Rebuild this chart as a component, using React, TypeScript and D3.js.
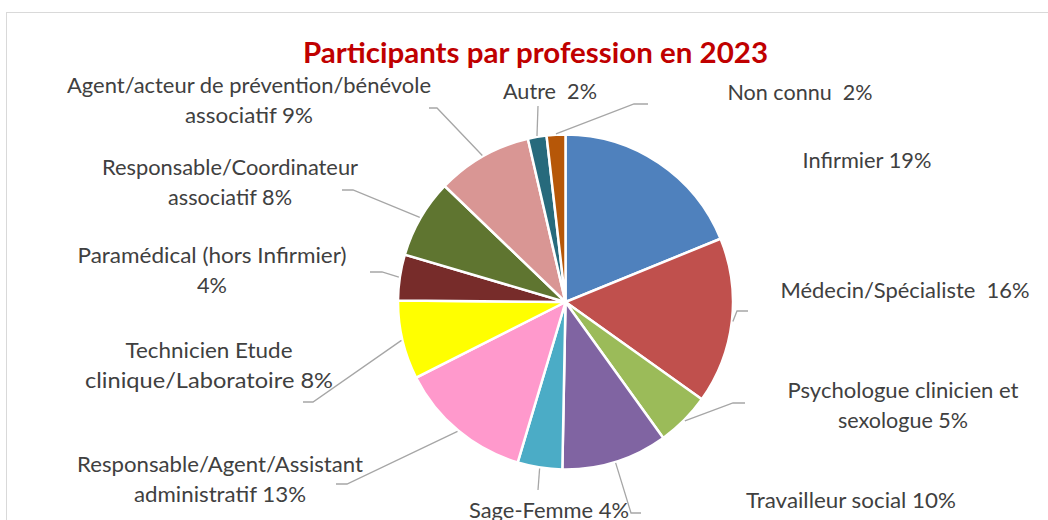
import * as d3 from "d3";

// professions, clockwise from 12 o'clock
const categories = [
  "Infirmier",
  "Médecin/Spécialiste",
  "Psychologue clinicien et sexologue",
  "Travailleur social",
  "Sage-Femme",
  "Responsable/Agent/Assistant administratif",
  "Technicien Etude clinique/Laboratoire",
  "Paramédical (hors Infirmier)",
  "Responsable/Coordinateur associatif",
  "Agent/acteur de prévention/bénévole associatif",
  "Autre",
  "Non connu",
];
// share of participants (%)
const shares = [18.8, 16.0, 5.2, 10.2, 4.3, 12.9, 7.6, 4.4, 7.6, 9.2, 1.8, 1.8];
// data labels as printed
const labelLines = [
  ["Infirmier 19%"],
  ["Médecin/Spécialiste  16%"],
  ["Psychologue clinicien et", "sexologue 5%"],
  ["Travailleur social 10%"],
  ["Sage-Femme 4%"],
  ["Responsable/Agent/Assistant", "administratif 13%"],
  ["Technicien Etude", "clinique/Laboratoire 8%"],
  ["Paramédical (hors Infirmier)", "4%"],
  ["Responsable/Coordinateur", "associatif 8%"],
  ["Agent/acteur de prévention/bénévole", "associatif 9%"],
  ["Autre  2%"],
  ["Non connu  2%"],
];
const colors = [
  "#4F81BD", "#C0504D", "#9BBB59", "#8064A2", "#4BACC6", "#FF99CC",
  "#FFFF00", "#772C2A", "#5F7530", "#D99694", "#276A7C", "#B65708",
];

// label placement: [centre x, first baseline, width per line], leader elbow + end
type Place = { x: number; y: number; w: number[]; leader?: [number, number][] };
const places: Place[] = [
  { x: 867, y: 168, w: [129] },
  { x: 905, y: 298, w: [249], leader: [[737, 311], [748, 311]] },
  { x: 903, y: 398, w: [231, 130], leader: [[733, 403], [745, 403]] },
  { x: 851, y: 508, w: [210], leader: [[631, 513], [641, 513]] },
  { x: 549, y: 518, w: [160], leader: [[538, 490]] },
  { x: 220, y: 472, w: [286, 172], leader: [[347, 484], [336, 484]] },
  { x: 209, y: 358, w: [167, 248], leader: [[313, 402], [303, 402]] },
  { x: 212, y: 263, w: [269, 30], leader: [[382, 272], [370, 272]] },
  { x: 230, y: 175, w: [256, 124], leader: [[353, 190], [342, 190]] },
  { x: 249, y: 93, w: [364, 128], leader: [[437, 108], [429, 108]] },
  { x: 550, y: 99, w: [94], leader: [[538, 106]] },
  { x: 800, y: 100, w: [145], leader: [[634, 104], [648, 104]] },
];

const width = 1048;
const height = 520;
const cx = 565.5;
const cy = 302;
const radius = 167.5;
const lineGap = 29.5;

export default function App() {
  const pie = d3
    .pie<number>()
    .sort(null)
    .value((d) => d);
  const arcs = pie(shares);
  const arc = d3.arc<d3.PieArcDatum<number>>().innerRadius(0).outerRadius(radius);
  const edge = d3
    .arc<d3.PieArcDatum<number>>()
    .innerRadius(radius + 1)
    .outerRadius(radius + 1);

  return (
    <svg
      width={width}
      height={height}
      style={{ position: "absolute", left: 0, top: 0, background: "#fff" }}
    >
      <rect x={6.5} y={12.5} width={1100} height={600} fill="#fff" stroke="#D9D9D9" />
      <text
        x={535.5}
        y={63}
        textAnchor="middle"
        fontFamily="Lato, 'Open Sans', sans-serif"
        fontWeight="bold"
        fontSize={28}
        fill="#C00000"
        textLength={465}
        lengthAdjust="spacingAndGlyphs"
      >
        Participants par profession en 2023
      </text>

      <g transform={`translate(${cx},${cy})`}>
        {arcs.map((a, i) => (
          <path key={categories[i]} d={arc(a) ?? ""} fill={colors[i]} stroke="#fff" strokeWidth={2.5} />
        ))}
      </g>

      {arcs.map((a, i) => {
        const p = places[i];
        if (!p.leader) return null;
        const mid = (a.startAngle + a.endAngle) / 2;
        const [ex, ey] = edge.centroid({ ...a, startAngle: mid, endAngle: mid });
        const pts: [number, number][] = [[cx + ex, cy + ey], ...p.leader];
        return (
          <polyline
            key={"l" + i}
            points={pts.map((q) => q.join(",")).join(" ")}
            fill="none"
            stroke="#A6A6A6"
            strokeWidth={1.3}
          />
        );
      })}

      {labelLines.map((lines, i) => (
        <g key={"t" + i}>
          {lines.map((s, j) => (
            <text
              key={j}
              x={places[i].x}
              y={places[i].y + j * lineGap}
              textAnchor="middle"
              fontFamily="Lato, 'Open Sans', sans-serif"
              fontSize={21.5}
              fill="#404040"
              style={{ whiteSpace: "pre" }}
              textLength={places[i].w[j]}
              lengthAdjust="spacingAndGlyphs"
            >
              {s}
            </text>
          ))}
        </g>
      ))}
    </svg>
  );
}
